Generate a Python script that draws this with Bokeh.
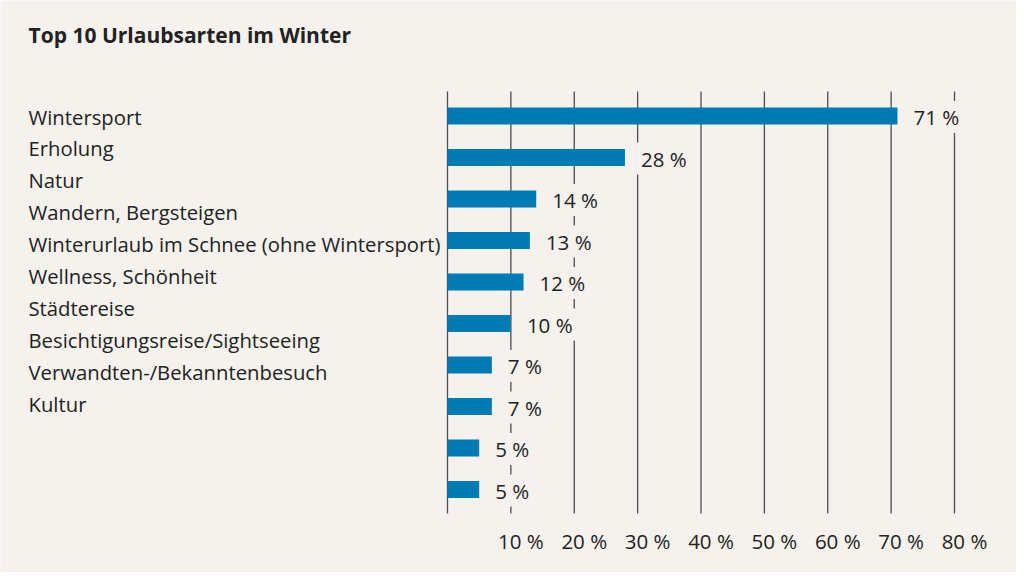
from bokeh.plotting import figure
from bokeh.models import Range1d
from bokeh.core.properties import value
from bokeh.embed import file_html
from bokeh.resources import INLINE

title_text = "Top 10 Urlaubsarten im Winter"
categories = [
    "Wintersport",
    "Erholung",
    "Natur",
    "Wandern, Bergsteigen",
    "Winterurlaub im Schnee (ohne Wintersport)",
    "Wellness, Schönheit",
    "Städtereise",
    "Besichtigungsreise/Sightseeing",
    "Verwandten-/Bekanntenbesuch",
    "Kultur",
]
values = [71, 28, 14, 13, 12, 10, 7, 7, 5, 5]
value_labels = ["71 %", "28 %", "14 %", "13 %", "12 %", "10 %", "7 %", "7 %", "5 %", "5 %"]
grid_values = [0, 10, 20, 30, 40, 50, 60, 70, 80]
tick_values = [10, 20, 30, 40, 50, 60, 70, 80]
tick_labels = ["10 %", "20 %", "30 %", "40 %", "50 %", "60 %", "70 %", "80 %"]

BG = "#f5f2ee"
TXT = "#222222"
BAR = "#007bb3"
FONT = "Open Sans"

W, H = 1016, 572
# layout in pixels (figure-local)
x0_px = 447.0          # x of 0 %
px_per_unit = 507.0 / 80.0
bar0_px = 115.5        # centre of first bar
bar_step_px = 41.5
grid_bottom_px = 513.0
grid_top_px = 91.0

def xd(px):
    return (px - x0_px) / px_per_unit

def yd(px):
    return (px - bar0_px) / bar_step_px

p = figure(width=W, height=H, output_backend="svg", toolbar_location=None,
           x_range=Range1d(xd(0), xd(W)), y_range=Range1d(yd(H), yd(0)),
           min_border=0)
p.background_fill_color = BG
p.border_fill_color = BG
p.outline_line_color = None
p.axis.visible = False
p.grid.visible = False

idx = list(range(len(values)))

# grid lines
p.segment(x0=grid_values, x1=grid_values,
          y0=[yd(grid_top_px)] * len(grid_values), y1=[yd(grid_bottom_px)] * len(grid_values),
          line_color="#4d4d4d", line_width=1.3)

# x tick labels (sit slightly right of their grid line, as in the original)
p.text(x=tick_values, y=[yd(540)] * len(tick_values), text=tick_labels, x_offset=10,
       text_baseline="middle", text_align="center",
       text_font=value(FONT), text_font_size="20.5px", text_color=TXT)

# bars
p.hbar(y=idx, left=0, right=values, height=17 / bar_step_px, fill_color=BAR, line_color=None)

# value labels
p.text(x=values, y=idx, text=value_labels, x_offset=12, y_offset=1,
       text_baseline="middle", text_align="left",
       text_font=value(FONT), text_font_size="20.5px", text_color=TXT,
       background_fill_color=BG, padding=(4, 2))

# category labels (independent spacing as in the original)
label_x = xd(28)
label_y = [yd(116 + 31.9 * i) for i in idx]
p.text(x=[label_x] * len(categories), y=label_y, text=categories,
       text_baseline="middle", text_align="left",
       text_font=value(FONT), text_font_size="20.3px", text_color=TXT)

# title
p.text(x=[label_x], y=[yd(34)], text=[title_text],
       text_baseline="middle", text_align="left",
       text_font=value(FONT), text_font_size="21px", text_font_style="bold", text_color=TXT)

open("out.html", "w").write(file_html(p, INLINE))
